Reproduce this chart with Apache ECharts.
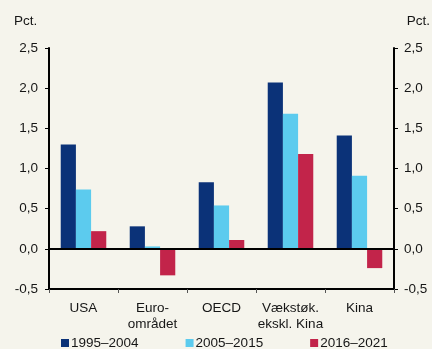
<!DOCTYPE html>
<html>
<head>
<meta charset="utf-8">
<script src="https://cdn.jsdelivr.net/npm/echarts@6/dist/echarts.min.js"></script>
<style>
  html, body { margin: 0; padding: 0; background: #f5f4ec; }
  #chart { width: 432px; height: 349px; }
</style>
</head>
<body>
<div id="chart"></div>
<script>
// Growth rates by region and period, pct.
const categories = ['USA', 'Euro-\nområdet', 'OECD', 'Vækstøk.\nekskl. Kina', 'Kina'];
const periods = ['1995–2004', '2005–2015', '2016–2021'];
const values1995 = [1.30, 0.28, 0.83, 2.07, 1.41];
const values2005 = [0.74, 0.03, 0.54, 1.68, 0.91];
const values2016 = [0.22, -0.33, 0.11, 1.18, -0.24];
const yTicks = [-0.5, 0, 0.5, 1, 1.5, 2, 2.5];
const unitLabel = 'Pct.';

const colors = ['#0b3278', '#5ccbee', '#c2244a'];
const font = 'Liberation Sans, Arial, sans-serif';
const textColor = '#161616';
const fontSize = 13.5;

const fmt = v => v.toFixed(1).replace('.', ',');

function yAxisDef(pos) {
  const left = pos === 'left';
  return {
    type: 'value',
    position: pos,
    min: yTicks[0],
    max: yTicks[yTicks.length - 1],
    interval: 0.5,
    axisLine: { show: true, lineStyle: { color: '#000', width: 2 } },
    axisTick: { show: true, length: 4, lineStyle: { color: '#000', width: 1 } },
    axisLabel: { color: textColor, fontSize: fontSize, fontFamily: font, margin: left ? 11 : 10, formatter: fmt },
    splitLine: { show: false }
  };
}

const series = [values1995, values2005, values2016].map((d, i) => ({
  name: periods[i],
  type: 'bar',
  data: d,
  barGap: '0%',
  barCategoryGap: '34%',
  itemStyle: { color: colors[i] },
  markLine: i === 0 ? {
    silent: true,
    symbol: ['none', 'none'],
    label: { show: false },
    lineStyle: { color: '#000', width: 2, type: 'solid' },
    data: [{ yAxis: 0 }]
  } : undefined
}));

const unitText = (x, align) => ({
  type: 'text',
  left: align === 'left' ? x : undefined,
  right: align === 'right' ? x : undefined,
  top: 14,
  style: { text: unitLabel, fill: textColor, font: fontSize + 'px ' + font }
});

const chart = echarts.init(document.getElementById('chart'), null, { renderer: 'canvas' });
chart.setOption({
  backgroundColor: '#f5f4ec',
  animation: false,
  color: colors,
  grid: { left: 49, right: 38, top: 48, bottom: 60, containLabel: false },
  graphic: [unitText(14, 'left'), unitText(2, 'right')],
  legend: {
    top: 331,
    left: 56,
    itemWidth: 8,
    itemHeight: 8,
    itemGap: 47,
    icon: 'rect',
    textStyle: { color: textColor, fontSize: fontSize, fontFamily: font, padding: [0, 0, 0, -3] },
    data: periods
  },
  xAxis: {
    type: 'category',
    data: categories,
    axisLine: { onZero: false, lineStyle: { color: '#000', width: 2 } },
    axisTick: { show: true, length: 4, lineStyle: { color: '#555', width: 1 } },
    axisLabel: { interval: 0, color: textColor, fontSize: fontSize, fontFamily: font, margin: 11, lineHeight: 16 }
  },
  yAxis: [yAxisDef('left'), yAxisDef('right')],
  series: series
});
</script>
</body>
</html>
